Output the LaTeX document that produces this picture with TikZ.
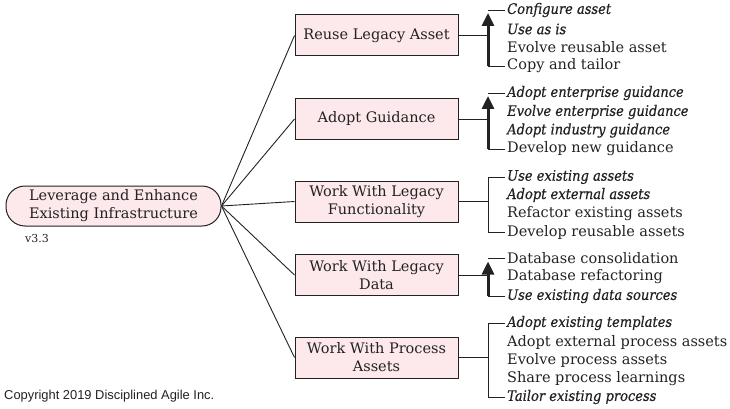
\documentclass[tikz,border=0pt]{standalone}
\usepackage{fontspec}
\setmainfont{DejaVu Serif}[ItalicFeatures={FakeStretch=0.9,FakeBold=0.5}]
\newfontfamily\copyfont{Liberation Sans}
\usetikzlibrary{arrows.meta}
\definecolor{boxfill}{HTML}{FDE8EB}
\definecolor{ink}{HTML}{222222}
\begin{document}
\begin{tikzpicture}[x=1pt,y=-1pt,
  every node/.style={text=ink},
  practice/.style={draw=ink,fill=boxfill,line width=1pt,minimum width=163pt,minimum height=41pt,align=center,font=\fontsize{14.5}{18}\selectfont,inner sep=2pt},
  rootbox/.style={draw=ink,fill=boxfill,line width=1pt,rounded corners=19pt,minimum width=215pt,minimum height=40pt,align=center,font=\fontsize{14.5}{18}\selectfont},
  opt/.style={anchor=west,inner xsep=2pt,inner ysep=0pt,font=\fontsize{14.5}{16}\selectfont},
  iopt/.style={opt,font=\fontsize{14.5}{16}\selectfont\itshape},
  link/.style={draw=ink,line width=0.9pt},
  brk/.style={draw=ink,line width=0.9pt},
  arr/.style={draw=ink,line width=3pt,-{Triangle[length=13pt,width=12pt]}}
]
\useasboundingbox (0,0) rectangle (730,409);
\node[rootbox] (root) at (113.5,206) {Leverage and Enhance\\Existing Infrastructure};
\node[anchor=west,font=\fontsize{11}{12}\selectfont,inner sep=0pt] (ver) at (25,238) {v3.3};

\node[practice] (b1) at (376.5,35.5) {Reuse Legacy Asset};
\node[practice] (b2) at (376.5,119) {Adopt Guidance};
\node[practice] (b3) at (376.5,201.5) {Work With Legacy\\Functionality};
\node[practice] (b4) at (376.5,275) {Work With Legacy\\Data};
\node[practice] (b5) at (376.5,357.5) {Work With Process\\Assets};

\foreach \b in {b1,b2,b3,b4,b5} \draw[link] (root.east) -- (\b.west);

% group 1
\node[iopt] (a1) at (505,10) {Configure asset};
\node[iopt] (a2) at (505,29) {Use as is};
\node[opt] (a3) at (505,47.5) {Evolve reusable asset};
\node[opt] (a4) at (505,66) {Copy and tailor};
% group 2
\node[iopt] (c1) at (505,93) {Adopt enterprise guidance};
\node[iopt] (c2) at (505,112) {Evolve enterprise guidance};
\node[iopt] (c3) at (505,130.5) {Adopt industry guidance};
\node[opt] (c4) at (505,149) {Develop new guidance};
% group 3
\node[iopt] (d1) at (505,177) {Use existing assets};
\node[iopt] (d2) at (505,195) {Adopt external assets};
\node[opt] (d3) at (505,213.5) {Refactor existing assets};
\node[opt] (d4) at (505,232) {Develop reusable assets};
% group 4
\node[opt] (e1) at (505,258.5) {Database consolidation};
\node[opt] (e2) at (505,277) {Database refactoring};
\node[iopt] (e3) at (505,296) {Use existing data sources};
% group 5
\node[iopt] (f1) at (505,323) {Adopt existing templates};
\node[opt] (f2) at (505,342) {Adopt external process assets};
\node[opt] (f3) at (505,360.5) {Evolve process assets};
\node[opt] (f4) at (505,379) {Share process learnings};
\node[iopt] (f5) at (505,397) {Tailor existing process};

\coordinate (bx) at (488,0);

% bracket 1 (arrow)
\draw[link] (b1.east) -- (b1.east -| bx);
\draw[brk] (a1.west) -- (a1.west -| bx);
\draw[brk] (a4.west) -- (a4.west -| bx);
\draw[arr] (a4.west -| bx) -- ([yshift=-3pt]a1.west -| bx);
% bracket 2 (arrow)
\draw[link] (b2.east) -- (b2.east -| bx);
\draw[brk] (c1.west) -- (c1.west -| bx);
\draw[brk] (c4.west) -- (c4.west -| bx);
\draw[arr] (c4.west -| bx) -- ([yshift=-3pt]c1.west -| bx);
% bracket 3 (plain)
\draw[link] (b3.east) -- (b3.east -| bx);
\draw[brk] (d1.west) -| (bx |- d4.west) -- (d4.west);
% bracket 4 (arrow)
\draw[link] (b4.east) -- (b4.east -| bx);
\draw[brk] (e1.west) -- (e1.west -| bx);
\draw[brk] (e3.west) -- (e3.west -| bx);
\draw[arr] (e3.west -| bx) -- ([yshift=-3pt]e1.west -| bx);
% bracket 5 (plain)
\draw[link] (b5.east) -- (b5.east -| bx);
\draw[brk] (f1.west) -| (bx |- f5.west) -- (f5.west);

\node[anchor=west,inner sep=0pt,font=\copyfont\fontsize{12.9}{14}\selectfont] (copy) at (4,396) {Copyright 2019 Disciplined Agile Inc.};
\end{tikzpicture}
\end{document}
